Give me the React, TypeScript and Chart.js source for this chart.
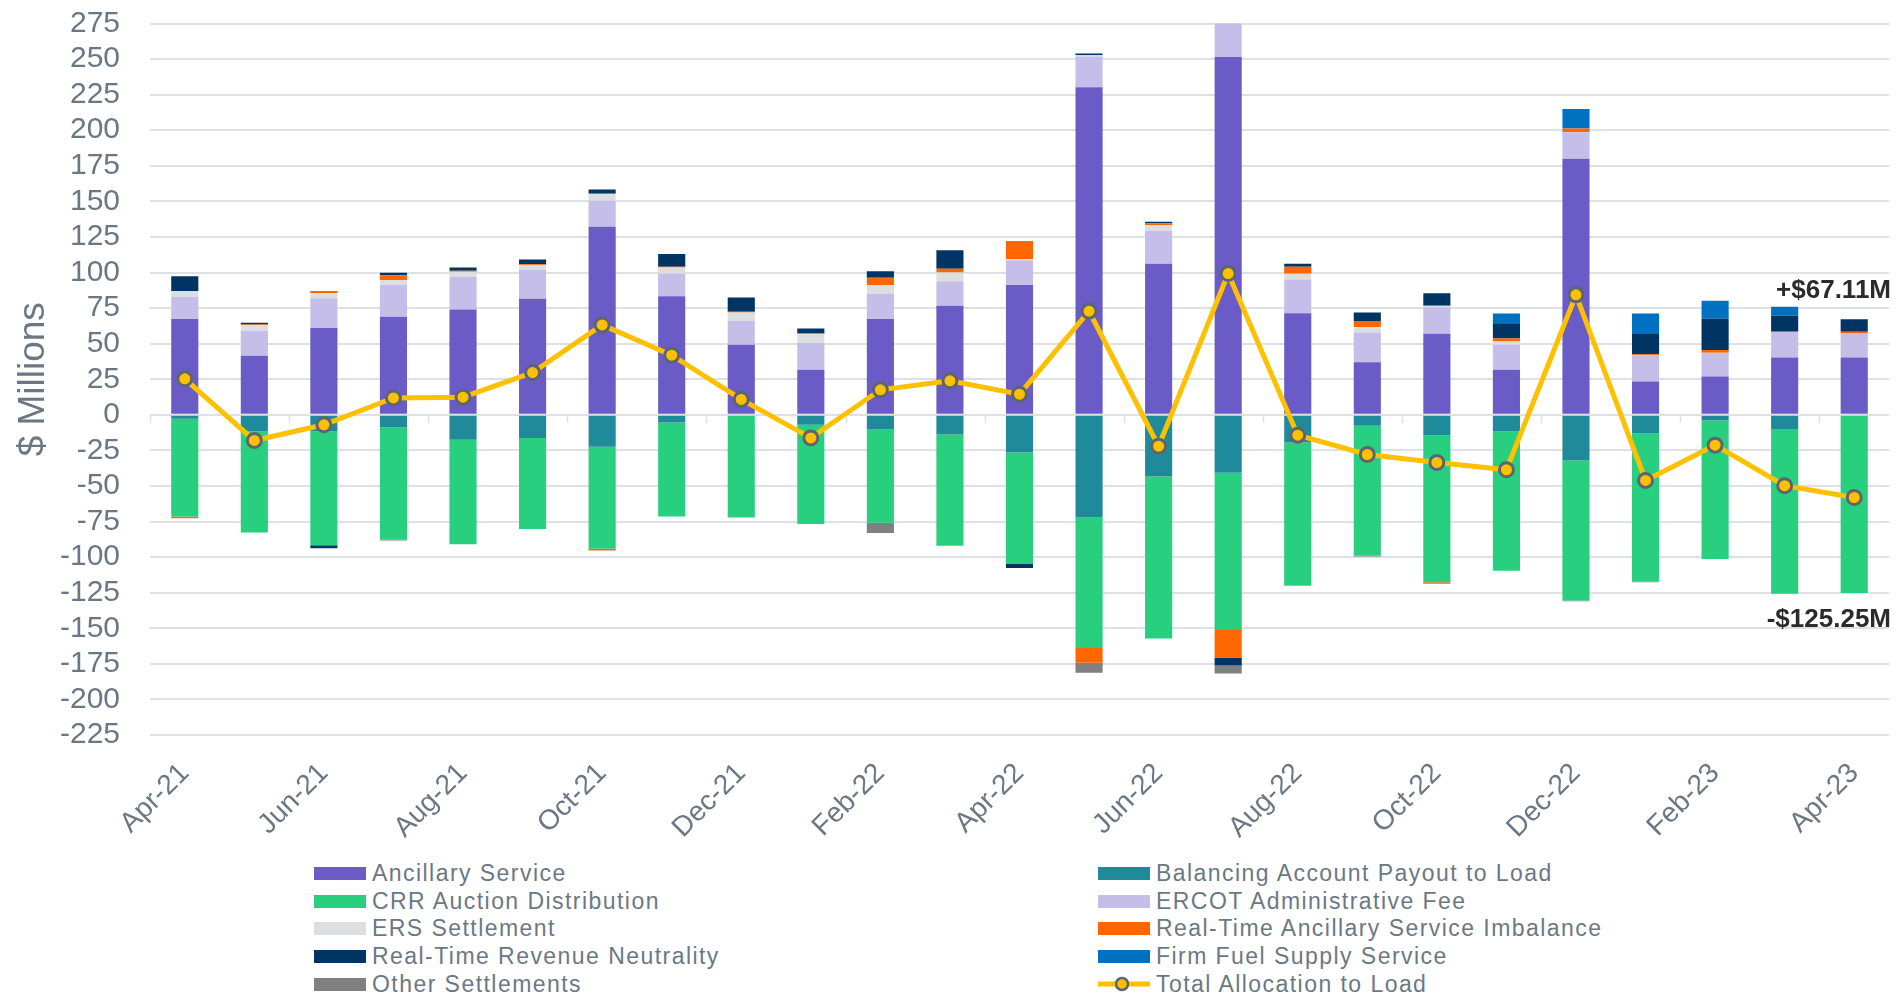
import React, { useEffect, useRef } from "react";
import { Chart, registerables } from "chart.js";

Chart.register(...registerables);

const months = [
  "Apr-21", "May-21", "Jun-21", "Jul-21", "Aug-21", "Sep-21", "Oct-21", "Nov-21", "Dec-21",
  "Jan-22", "Feb-22", "Mar-22", "Apr-22", "May-22", "Jun-22", "Jul-22", "Aug-22", "Sep-22",
  "Oct-22", "Nov-22", "Dec-22", "Jan-23", "Feb-23", "Mar-23", "Apr-23",
];

const ancillaryService = [67.4, 41.5, 61.1, 68.9, 74.0, 81.5, 132.1, 83.4, 49.2, 31.6, 67.4, 76.6, 91.3, 230.2, 106.1, 251.5, 71.4, 37.0, 56.9, 31.6, 179.9, 23.4, 26.9, 40.2, 40.2];
const balancingAccount = [-2.8, -11.7, -11.7, -8.9, -17.6, -16.2, -22.5, -5.4, 0, -7.0, -10.3, -13.8, -26.5, -72.1, -43.3, -40.7, -19.4, -7.7, -14.5, -11.7, -32.1, -13.1, -4.0, -10.0, 0];
const crrAuction = [-68.6, -71.0, -79.9, -78.9, -73.3, -64.1, -71.6, -66.0, -72.1, -69.8, -65.6, -78.2, -77.9, -91.8, -113.8, -110.6, -100.7, -91.4, -103.1, -97.9, -98.3, -104.0, -97.4, -115.7, -125.25];
const ercotFee = [15.5, 17.5, 20.9, 22.4, 23.0, 20.4, 18.3, 15.7, 16.8, 18.8, 17.6, 17.3, 17.4, 21.6, 23.2, 29.5, 23.7, 20.8, 18.7, 17.6, 18.7, 18.5, 16.8, 18.2, 17.0];
const ersSettlement = [4.2, 4.2, 3.5, 3.5, 3.5, 3.3, 4.9, 4.4, 5.9, 6.3, 6.3, 6.1, 0.7, 0.9, 4.0, 0, 4.0, 4.0, 1.0, 2.3, 0, 0, 0, 0, 0];
const rtAncillaryImbalance = [-1.2, 0.3, 1.6, 3.3, 0.7, 0.7, -1.2, 0.5, 0.5, 0.7, 5.0, 2.6, 12.8, -10.3, 1.4, -19.2, 4.9, 4.2, -1.1, 2.1, 2.6, 0.7, 1.9, 0, 1.2];
const rtRevenueNeutrality = [10.3, 1.2, -2.1, 1.7, 2.3, 3.2, 3.0, 9.1, 10.0, 3.3, 4.6, 13.1, -3.3, 1.2, 0.9, -5.6, 2.1, 5.9, 8.9, 10.8, 0, 14.8, 21.9, 11.2, 8.7];
const firmFuelSupply = [0, 0, 0, 0, 0, 0, 0, 0, 0, 0, 0, 0, 0, 0, 0, 0, 0, 0, 0, 6.8, 13.8, 13.8, 12.6, 6.3, 0];
const otherSettlements = [0, 0, 0, -0.5, 0, 0, 0, 0, 0, 0, -7.2, 0, 0, -7.1, 0, -5.6, 0, -0.5, 0, 0, -0.6, -0.6, 0, 0, 0];
const totalAllocation = [25.3, -18.0, -7.0, 11.9, 12.4, 29.7, 63.2, 41.9, 10.8, -16.2, 17.6, 23.9, 14.5, 72.8, -22.0, 99.3, -14.3, -27.9, -33.5, -38.6, 84.3, -46.1, -21.3, -49.8, -58.1];

const yTickValues = { min: -225, max: 275, step: 25 };
const lastMonthLabels = [
  { text: "+$67.11M", value: 67.11 },
  { text: "-$125.25M", value: -125.25 },
];

const FONT = "'Liberation Sans', Arial, Helvetica, sans-serif";
const TEXT_GREY = "#6B7884";
const GRID = "#DDE0E4";

const barSeries = [
  { label: "Ancillary Service", data: ancillaryService, color: "#6A5BC6" },
  { label: "Balancing Account Payout to Load", data: balancingAccount, color: "#1F8B9A" },
  { label: "CRR Auction Distribution", data: crrAuction, color: "#28CF7E" },
  { label: "ERCOT Administrative Fee", data: ercotFee, color: "#C4BEE8" },
  { label: "ERS Settlement", data: ersSettlement, color: "#DCDFE2" },
  { label: "Real-Time Ancillary Service Imbalance", data: rtAncillaryImbalance, color: "#FF6600" },
  { label: "Real-Time Revenue Neutrality", data: rtRevenueNeutrality, color: "#003462" },
  { label: "Firm Fuel Supply Service", data: firmFuelSupply, color: "#0071C1" },
  { label: "Other Settlements", data: otherSettlements, color: "#808080" },
];
const lineSeries = { label: "Total Allocation to Load", data: totalAllocation, color: "#FFC000", border: "#5B6670" };

const legendLeft = ["Ancillary Service", "CRR Auction Distribution", "ERS Settlement", "Real-Time Revenue Neutrality", "Other Settlements"];
const legendRight = ["Balancing Account Payout to Load", "ERCOT Administrative Fee", "Real-Time Ancillary Service Imbalance", "Firm Fuel Supply Service", "Total Allocation to Load"];

const extrasPlugin = {
  id: "extras",
  beforeDatasetsDraw(chart: any) {
    const { ctx, scales } = chart;
    const x = scales.x;
    const y = scales.y;
    const y0 = y.getPixelForValue(0);
    const half = (x.getPixelForValue(1) - x.getPixelForValue(0)) / 2;
    ctx.save();
    ctx.strokeStyle = GRID;
    ctx.lineWidth = 1.5;
    for (let i = 0; i < months.length; i += 2) {
      const px = Math.round(x.getPixelForValue(i) - half) + 0.5;
      ctx.beginPath();
      ctx.moveTo(px, y0);
      ctx.lineTo(px, y0 + 8);
      ctx.stroke();
    }
    ctx.restore();
  },
  afterDatasetsDraw(chart: any) {
    const { ctx, scales } = chart;
    const y = scales.y;
    ctx.save();
    ctx.font = `bold 26px ${FONT}`;
    ctx.fillStyle = "#2B2B2B";
    ctx.textAlign = "right";
    ctx.textBaseline = "alphabetic";
    const right = chart.width - 12;
    const [pos, neg] = lastMonthLabels;
    ctx.fillText(pos.text, right, y.getPixelForValue(pos.value) - 21);
    ctx.fillText(neg.text, right, y.getPixelForValue(neg.value) + 34);
    ctx.restore();
  },
};

function LegendMark({ label }: { label: string }) {
  if (label === lineSeries.label) {
    return (
      <svg width={52} height={18} style={{ display: "block", flex: "0 0 52px" }}>
        <line x1={0} y1={9} x2={52} y2={9} stroke={lineSeries.color} strokeWidth={5} />
        <circle cx={24} cy={9} r={6} fill={lineSeries.color} stroke={lineSeries.border} strokeWidth={2.5} />
      </svg>
    );
  }
  const s = barSeries.find((b) => b.label === label)!;
  return <div style={{ width: 52, height: 13, background: s.color, flex: "0 0 52px" }} />;
}

function LegendColumn({ items, left }: { items: string[]; left: number }) {
  return (
    <div style={{ position: "absolute", left, top: 859.6 }}>
      {items.map((it) => (
        <div key={it} style={{ height: 27.7, display: "flex", alignItems: "center" }}>
          <LegendMark label={it} />
          <span
            style={{
              marginLeft: 6,
              fontFamily: FONT,
              fontSize: 23,
              letterSpacing: "1.45px",
              color: TEXT_GREY,
              whiteSpace: "nowrap",
              lineHeight: "27px",
            }}
          >
            {it}
          </span>
        </div>
      ))}
    </div>
  );
}

export default function App() {
  const ref = useRef<HTMLCanvasElement>(null);

  useEffect(() => {
    const datasets: any[] = [
      {
        type: "line",
        label: lineSeries.label,
        data: lineSeries.data,
        borderColor: lineSeries.color,
        backgroundColor: lineSeries.color,
        borderWidth: 5,
        pointRadius: 7,
        pointBorderWidth: 3,
        pointBackgroundColor: lineSeries.color,
        pointBorderColor: lineSeries.border,
        stack: "line",
        order: 0,
        tension: 0,
      },
      ...barSeries.map((s) => ({
        type: "bar",
        label: s.label,
        data: s.data,
        backgroundColor: s.color,
        borderWidth: 0,
        stack: "bars",
        order: 1,
        barPercentage: 0.39,
        categoryPercentage: 1.0,
        clip: 0,
      })),
    ];

    const chart = new Chart(ref.current!, {
      type: "bar",
      data: { labels: months, datasets },
      options: {
        responsive: false,
        animation: false,
        devicePixelRatio: 1,
        layout: { padding: { top: 23.5, right: 14, left: 0, bottom: 0 } },
        plugins: { legend: { display: false }, tooltip: { enabled: false } },
        scales: {
          x: {
            stacked: true,
            grid: { display: false, drawTicks: false },
            border: { display: false },
            ticks: {
              autoSkip: false,
              maxRotation: 45,
              minRotation: 45,
              padding: 22,
              color: TEXT_GREY,
              font: { family: FONT, size: 28 },
              callback: (_v: any, i: number) => (i % 2 === 0 ? months[i] : ""),
            },
            afterFit: (s: any) => {
              s.height = 115;
              s.paddingTop = 0;
              s.paddingBottom = 0;
            },
          },
          y: {
            stacked: true,
            min: yTickValues.min,
            max: yTickValues.max,
            ticks: {
              autoSkip: false,
              stepSize: yTickValues.step,
              padding: 30,
              color: TEXT_GREY,
              font: { family: FONT, size: 30 },
            },
            grid: { color: GRID, lineWidth: 2, drawTicks: false },
            border: { display: false },
            title: {
              display: true,
              text: "$ Millions",
              color: TEXT_GREY,
              font: { family: FONT, size: 37 },
              padding: { top: 12, bottom: 0 },
            },
            afterFit: (s: any) => {
              s.width = 150;
              s.paddingTop = 0;
              s.paddingBottom = 0;
            },
          },
        },
      } as any,
      plugins: [extrasPlugin],
    });
    return () => chart.destroy();
  }, []);

  return (
    <div style={{ position: "absolute", left: 0, top: 0, width: 1903, height: 996, background: "#fff", overflow: "hidden" }}>
      <canvas ref={ref} width={1903} height={850} style={{ display: "block", width: 1903, height: 850 }} />
      <LegendColumn items={legendLeft} left={314} />
      <LegendColumn items={legendRight} left={1098} />
    </div>
  );
}
